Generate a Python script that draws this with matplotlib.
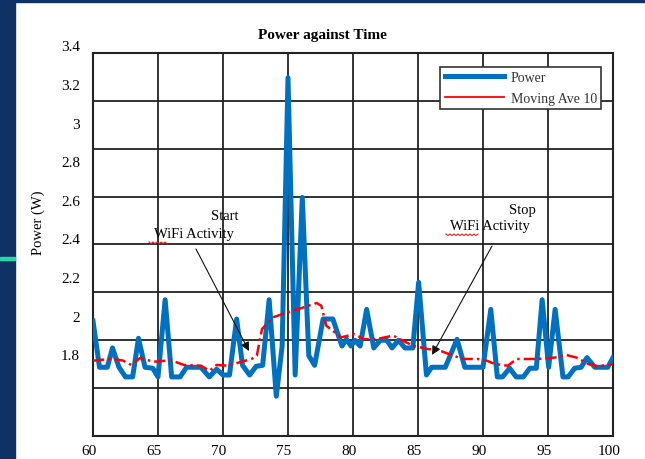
import numpy as np
import matplotlib
matplotlib.use("Agg")
import matplotlib.pyplot as plt
from matplotlib.lines import Line2D
from matplotlib.patches import Rectangle
import matplotlib.transforms as mtrans

plt.rcParams['font.family'] = ['Liberation Serif', 'DejaVu Serif']

# ---------------- data ----------------
power_t = [60.0, 60.5, 61.1, 61.5, 62.0, 62.5, 63.05, 63.5, 64.0, 64.6, 65.0, 65.55,
           66.05, 66.7, 67.2, 68.3, 68.95, 69.5, 70.0, 70.5, 71.05, 71.5, 72.05, 72.55,
           73.05, 73.55, 74.1, 74.55, 75.0, 75.55, 76.1, 76.6, 77.05, 77.7, 78.45, 79.15,
           79.5, 79.85, 80.15, 80.55, 81.05, 81.6, 82.1, 82.6, 83.0, 83.5, 84.0, 84.6,
           85.05, 85.65, 86.05, 87.1, 88.0, 88.6, 90.0, 90.6, 91.1, 91.5, 92.05, 92.55,
           93.1, 93.6, 94.1, 94.55, 95.05, 95.55, 96.15, 96.55, 97.05, 97.55, 98.0, 98.6,
           99.6, 100.0]
power_w = [1.98, 1.74, 1.74, 1.84, 1.74, 1.69, 1.69, 1.89, 1.74, 1.735, 1.69, 2.09,
           1.69, 1.69, 1.74, 1.74, 1.69, 1.73, 1.70, 1.70, 1.99, 1.75, 1.70, 1.745,
           1.75, 2.09, 1.59, 1.85, 3.24, 1.70, 2.62, 1.80, 1.75, 1.99, 1.99, 1.85,
           1.885, 1.85, 1.88, 1.85, 2.04, 1.84, 1.88, 1.88, 1.84, 1.88, 1.84, 1.84,
           2.18, 1.70, 1.74, 1.74, 1.885, 1.74, 1.74, 2.04, 1.69, 1.69, 1.735, 1.69,
           1.69, 1.735, 1.735, 2.09, 1.74, 2.04, 1.69, 1.69, 1.735, 1.74, 1.79, 1.74,
           1.74, 1.79]

mavg_t = [60.0, 60.5, 61.5, 62.3, 62.95, 63.6, 64.7, 66.0, 67.0, 68.3, 68.97, 69.5,
          70.4, 71.3, 72.2, 72.6, 73.0, 73.85, 75.0, 76.0, 77.2, 77.56, 77.95, 79.1,
          80.1, 80.8, 81.8, 83.1, 83.6, 84.6, 85.7, 86.7, 87.7, 88.5, 89.6, 90.3,
          90.9, 91.9, 92.6, 94.2, 95.5, 96.4, 97.2, 98.1, 98.85, 100.0]
mavg_w = [1.774, 1.778, 1.783, 1.775, 1.752, 1.787, 1.769, 1.776, 1.752, 1.748, 1.722, 1.752,
          1.748, 1.766, 1.783, 1.80, 1.938, 1.999, 2.025, 2.046, 2.073, 2.059, 1.955, 1.895,
          1.912, 1.886, 1.886, 1.904, 1.886, 1.852, 1.835, 1.826, 1.80, 1.783, 1.783, 1.774,
          1.757, 1.748, 1.783, 1.783, 1.79, 1.804, 1.79, 1.757, 1.745, 1.757]

x_ticks = [60, 65, 70, 75, 80, 85, 90, 95, 100]
y_tick_vals = [3.4, 3.2, 3.0, 2.8, 2.6, 2.4, 2.2, 2.0, 1.8]
y_tick_labels = ['3.4', '3.2', '3', '2.8', '2.6', '2.4', '2.2', '2', '1.8']

title = 'Power against Time'
ylabel = 'Power (W)'
series_names = ['Power', 'Moving Ave 10']
start_tip = (72.0, 1.824)
start_tail = (67.92, 2.353)
stop_tip = (86.08, 1.804)
stop_tail = (90.69, 2.368)

# ---------------- figure ----------------
W, H = 645, 460
fig = plt.figure(figsize=(W / 100, H / 100), dpi=100, facecolor='white')

navy = '#0F3166'
fig.patches.append(Rectangle((0, 0), 15 / W, 1, transform=fig.transFigure,
                             color=navy, zorder=0))
fig.patches.append(Rectangle((0, 1 - 2.5 / H), 1, 2.5 / H, transform=fig.transFigure,
                             color=navy, zorder=0))
fig.patches.append(Rectangle((0, (H - 260.5) / H), 15 / W, 3 / H,
                             transform=fig.transFigure, color='#23D9A8', zorder=1))

ax_left, ax_right, ax_top, ax_bot = 93, 613, 54, 436.7
ax = fig.add_axes([ax_left / W, (H - ax_bot) / H, (ax_right - ax_left) / W,
                   (ax_bot - ax_top) / H])

y0, y1 = 1.3855, 3.368
ax.set_xlim(60, 100)
ax.set_ylim(y0, y1)

blue = '#0070C0'
ax.plot(power_t, power_w, color=blue, lw=3.6, solid_joinstyle='round', zorder=3)
ax.plot(mavg_t, mavg_w, color='#FF0000', lw=1.8, dashes=[4.5, 1.6, 1, 1.6], zorder=4)

ax.set_xticks(x_ticks)
ax.set_xticklabels([str(v) for v in x_ticks], fontsize=11)
ax.set_yticks(np.linspace(y0, y1, 9))
ax.set_yticklabels([])
ax.tick_params(axis='both', length=0)
ax.tick_params(axis='x', pad=6)
ax.grid(True, color='#222222', lw=1.3, zorder=1)
ax.set_axisbelow(True)
for s in ax.spines.values():
    s.set_color('#222222')
    s.set_linewidth(1.5)

offset = mtrans.ScaledTranslation(-4 / 100, 0, fig.dpi_scale_trans)
for lab in ax.get_xticklabels():
    lab.set_transform(lab.get_transform() + offset)

ytrans = ax.get_yaxis_transform()
for v, s in zip(y_tick_vals, y_tick_labels):
    ax.text(-0.025, v, s, transform=ytrans, ha='right', va='center',
            fontsize=11, clip_on=False)

fig.text(38 / W, (H - 223) / H, ylabel, rotation=90, ha='center', va='center',
         fontsize=10.5)
fig.text(322 / W, (H - 36) / H, title, ha='center', va='center', fontsize=11,
         fontweight='bold')

handles = [Line2D([], [], color=blue, lw=3.6),
           Line2D([], [], color='#FF0000', lw=1.3)]
leg = ax.legend(handles, series_names, loc='upper right',
                bbox_to_anchor=((601 - ax_left) / (ax_right - ax_left),
                                (ax_bot - 68) / (ax_bot - ax_top)),
                fancybox=False, framealpha=1, edgecolor='#333333',
                fontsize=10, handlelength=4.3, handletextpad=0.45,
                borderpad=0.3, labelspacing=0.55, borderaxespad=0)
leg.get_frame().set_linewidth(1.2)
for t in leg.get_texts():
    t.set_color('#333333')

arrow_kw = dict(arrowstyle='-|>', color='#111111', lw=0.8, mutation_scale=13,
                shrinkA=0, shrinkB=0)
ax.annotate('', xy=start_tip, xytext=start_tail, arrowprops=arrow_kw, zorder=5)
ax.annotate('', xy=stop_tip, xytext=stop_tail, arrowprops=arrow_kw, zorder=5)

ax.text(70.15, 2.524, 'Start', ha='center', va='center', fontsize=10.5, zorder=5)
ax.text(67.77, 2.431, 'WiFi Activity', ha='center', va='center', fontsize=10.5,
        zorder=5)
ax.text(93.0, 2.555, 'Stop', ha='center', va='center', fontsize=10.5, zorder=5)
ax.text(90.54, 2.472, 'WiFi Activity', ha='center', va='center', fontsize=10.5,
        zorder=5)

def squiggle(x_start, x_end, y_pix):
    xs = np.arange(x_start, x_end + 0.1, 2.0)
    ys = y_pix + np.where(np.arange(len(xs)) % 2 == 0, 0.0, 1.6)
    fig.add_artist(Line2D(xs / W, (H - ys) / H, transform=fig.transFigure,
                          color='#E02020', lw=0.8))

squiggle(149, 168, 243)
squiggle(446, 478, 235)

fig.savefig('out.png', dpi=100, facecolor=fig.get_facecolor())
